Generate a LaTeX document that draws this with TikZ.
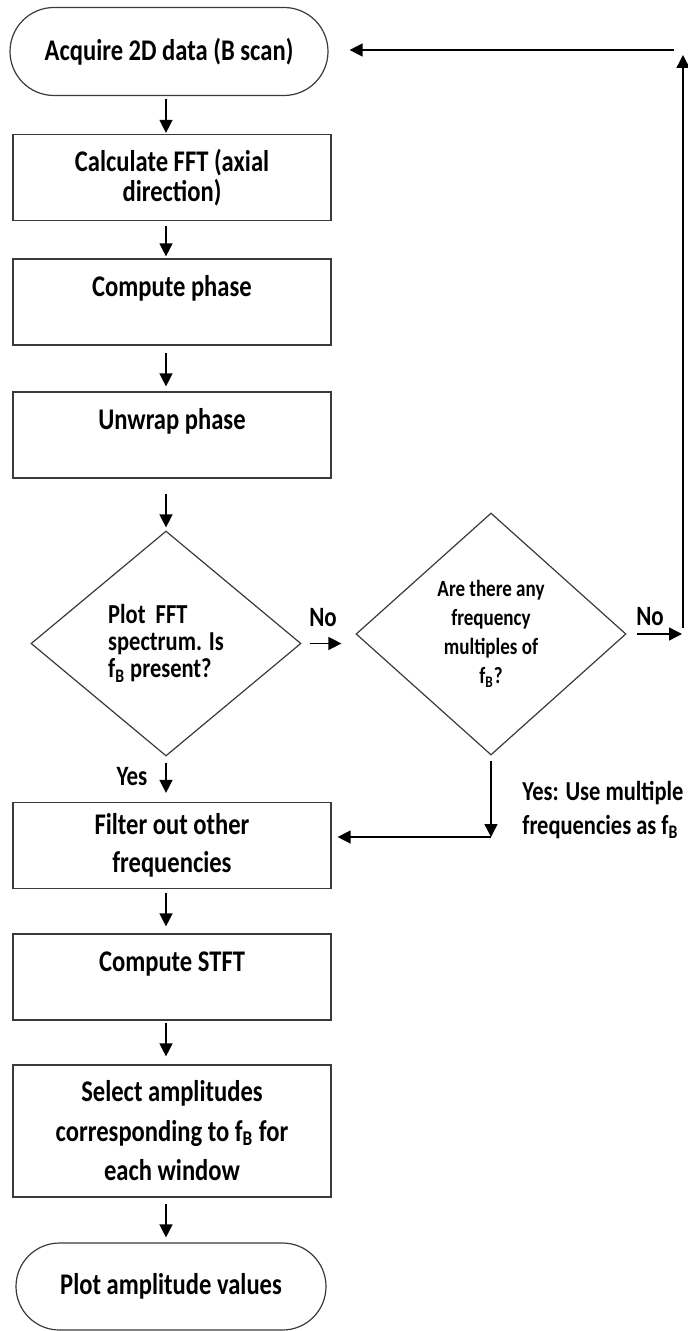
\documentclass[tikz,border=0pt]{standalone}
\usepackage{fontspec}
\setmainfont{Carlito}[FakeStretch=0.82]
\usepackage{tikz}
\usetikzlibrary{shapes,arrows.meta,positioning,calc}
\definecolor{FlowBlack}{HTML}{000000}
\definecolor{FlowGrey}{HTML}{3A3A3A}
\definecolor{FlowWhite}{HTML}{FFFFFF}
\tikzset{
    % Base node style
    basenode/.style={
        draw=FlowGrey,
        fill=FlowWhite,
        line width=0.6pt,
        align=center,
        inner sep=2pt,
        font=\fontsize{15}{19}\selectfont\bfseries
    },
    % Process box
    procnode/.style={
        basenode,
        rectangle,
        minimum width=159pt,
        minimum height=43pt
    },
    % Process box, text kept in the upper half
    uppernode/.style={
        procnode,
        text height=10pt,
        text depth=15.5pt
    },
    % Start / end of the flow
    termnode/.style={
        basenode,
        rounded rectangle,
        minimum width=159pt,
        minimum height=44pt
    },
    % Decision
    decnode/.style={
        basenode,
        diamond,
        inner sep=1pt,
        minimum width=135pt
    },
    % Arrow style (straight lines only)
    myarrow/.style={
        -{Triangle[length=6.5pt,width=6.5pt]},
        line width=0.7pt,
        draw=FlowBlack
    },
    % Branch labels
    labelnode/.style={
        font=\fontsize{14}{17}\selectfont\bfseries,
        inner sep=0pt
    }
}
\begin{document}
\begin{tikzpicture}[x=0.5pt, y=-0.5pt]
        \useasboundingbox (0,0) rectangle (687,1331);

        % Main column
        \node[termnode, minimum width=163pt] (acquire) at (169,51.5) {Acquire 2D data (B scan)};
        \node[procnode, font=\fontsize{15}{15}\selectfont\bfseries] (fft) at (172,177.5) {Calculate FFT (axial\\direction)};
        \node[uppernode] (phase) at (172,302) {Compute phase};
        \node[uppernode] (unwrap) at (172,435) {Unwrap phase};
        \node[decnode, minimum height=112.5pt, align=left, font=\fontsize{13.7}{13.5}\selectfont\bfseries] (spec) at (166,643.5) {Plot\ \ FFT\\spectrum. Is\\f\textsubscript{B} present?};
        \node[procnode] (filter) at (172,845.5) {Filter out other\\frequencies};
        \node[uppernode] (stft) at (172,977) {Compute STFT};
        \node[procnode, minimum height=66pt, font=\fontsize{15}{19.75}\selectfont\bfseries] (select) at (172,1131) {Select amplitudes\\corresponding to f\textsubscript{B} for\\each window};
        \node[termnode, minimum height=43.5pt] (plot) at (171,1286.5) {Plot amplitude values};

        % Second check
        \node[decnode, minimum height=121pt, font=\fontsize{11.6}{14.5}\selectfont\bfseries] (mult) at (491,634) {Are there any\\frequency\\multiples of\\f\textsubscript{B}?};

        % Loop back / merge points
        \coordinate (loopbot) at (683,634);
        \coordinate (looptop) at (683,50);
        \coordinate (merge) at (491,837);

        % Labels
        \node[labelnode] (no1) at (323,618) {No};
        \node[labelnode] (no2) at (650,617) {No};
        \node[labelnode] (yes1) at (132,777) {Yes};
        \node[labelnode, anchor=west, align=left, font=\fontsize{13.7}{17}\selectfont\bfseries] (yes2) at (522,810) {Yes: Use multiple\\frequencies as f\textsubscript{B}};

        % Arrows down the main column
        \draw[myarrow, shorten <=1.5pt, shorten >=0.5pt] (acquire.south -| spec.north) -- (fft.north -| spec.north);
        \draw[myarrow, shorten <=2.5pt, shorten >=1pt] (fft.south -| spec.north) -- (phase.north -| spec.north);
        \draw[myarrow, shorten <=3.5pt, shorten >=2.5pt] (phase.south -| spec.north) -- (unwrap.north -| spec.north);
        \draw[myarrow, shorten <=7.5pt, shorten >=1.5pt] (unwrap.south -| spec.north) -- (spec.north);
        \draw[myarrow, shorten <=3pt, shorten >=4.5pt] (spec.south) -- (spec.south |- filter.north);
        \draw[myarrow, shorten <=2pt, shorten >=3.5pt] (filter.south -| spec.north) -- (stft.north -| spec.north);
        \draw[myarrow, shorten <=1pt, shorten >=4pt] (stft.south -| spec.north) -- (select.north -| spec.north);
        \draw[myarrow, shorten <=3pt, shorten >=2.5pt] (select.south -| spec.north) -- (plot.north -| spec.north);

        % No branches
        \draw[myarrow, shorten <=4pt, shorten >=7pt] (spec.east) -- (spec.east -| mult.west);
        \draw[myarrow, shorten <=5pt, shorten >=0.5pt] (mult.east) -- (loopbot);
        \draw[myarrow, shorten <=3pt, shorten >=2.5pt] (loopbot) -- (looptop);
        \draw[myarrow, shorten <=4.5pt, shorten >=10.5pt] (looptop) -- (acquire.east |- looptop);

        % Yes branch of the second check
        \draw[myarrow, shorten <=2.5pt] (mult.south) -- (merge);
        \draw[myarrow, shorten >=3pt] (merge) -- (filter.east |- merge);
    \end{tikzpicture}
\end{document}
